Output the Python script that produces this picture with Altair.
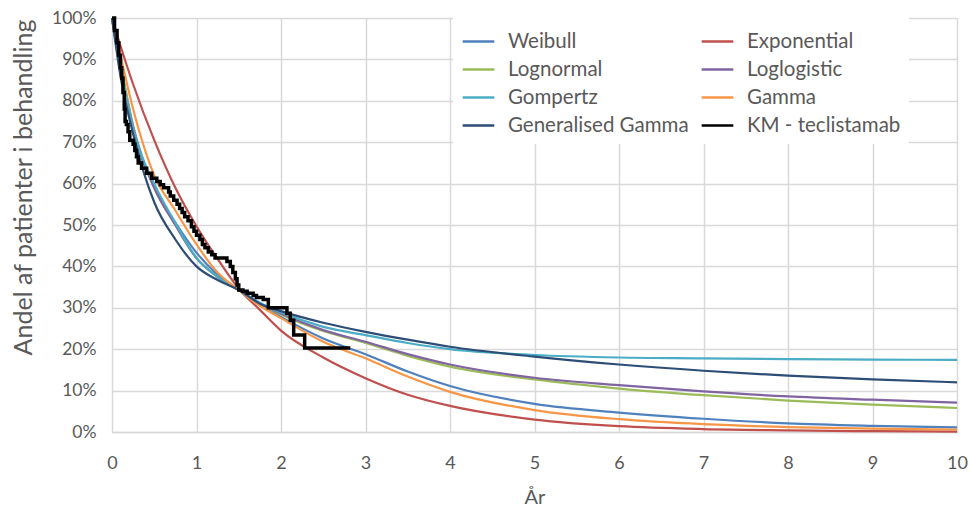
import altair as alt
import pandas as pd

# ---- data ----
models = ["Weibull", "Exponential", "Lognormal", "Loglogistic",
          "Gompertz", "Gamma", "Generalised Gamma", "KM - teclistamab"]
colors = ["#4F81BD", "#C0504D", "#9BBB59", "#8064A2",
          "#4BACC6", "#F79646", "#2C4D75", "#000000"]

years = [0, 0.1, 0.25, 0.5, 0.75, 1, 1.25, 1.5, 1.75, 2, 2.5, 3, 3.5, 4, 5, 6, 7, 8, 9, 10]
weibull = [100, 89, 74, 59, 50.6, 43.3, 38, 34.3, 30.8, 27.8, 22.6, 18.8, 14.6, 11.1, 6.8, 4.7, 3.2, 2.1, 1.5, 1.1]
exponential = [100, 93.3, 84, 70.5, 59, 49.7, 41.8, 34.6, 29.5, 24.5, 18, 13, 9, 6.3, 3, 1.4, 0.7, 0.4, 0.2, 0.1]
lognormal = [100, 89, 73.5, 59, 50, 42, 37.5, 34.3, 31, 28.4, 24.4, 21.5, 18.4, 15.8, 12.7, 10.5, 8.9, 7.6, 6.6, 5.8]
loglogistic = [100, 88, 73, 59, 50, 42, 37.5, 34.3, 31.1, 28.6, 24.6, 21.8, 18.8, 16.3, 13.1, 11.3, 9.8, 8.6, 7.8, 7.1]
gompertz = [100, 88, 73, 60, 50.5, 42, 37.5, 34.3, 31.2, 28.9, 25.4, 23.4, 21.5, 20.0, 18.6, 18.0, 17.8, 17.6, 17.5, 17.4]
gamma = [100, 91, 78, 62, 53.5, 45.3, 38.5, 34.3, 30.5, 27.5, 21.8, 17.8, 13.4, 9.7, 5.3, 3.1, 1.9, 1.2, 0.8, 0.6]
gen_gamma = [100, 86, 72, 55.5, 46.5, 40, 36.7, 34.3, 31, 29.2, 26.4, 24.2, 22.3, 20.6, 18.2, 16.3, 14.8, 13.6, 12.7, 12.0]

km_years = [0, 0.03, 0.06, 0.08, 0.1, 0.115, 0.13, 0.145, 0.155, 0.17, 0.19, 0.21, 0.25, 0.27,
            0.29, 0.31, 0.35, 0.41, 0.47, 0.53, 0.57, 0.61, 0.67, 0.69, 0.73, 0.77, 0.8, 0.83,
            0.86, 0.9, 0.94, 0.97, 1.0, 1.04, 1.07, 1.1, 1.14, 1.18, 1.22, 1.36, 1.4, 1.43,
            1.46, 1.48, 1.5, 1.55, 1.6, 1.67, 1.71, 1.79, 1.85, 2.07, 2.11, 2.15, 2.28, 2.82]
km_surv = [100, 97, 94, 91, 88, 85.5, 82, 78, 75, 74.3, 72.5, 70.5, 69.5, 68,
           66.5, 65, 63.7, 62.5, 61.3, 60.5, 59.7, 59, 58, 57, 56, 55, 54, 53,
           52, 51, 49.6, 48.5, 47.5, 46.5, 45.3, 44.5, 43.5, 42.8, 42, 41.2, 40, 38.5,
           37, 35.5, 34.3, 34, 33.5, 33, 32.5, 32, 30, 28.7, 27, 23.4, 20.3, 20.3]

x_ticks = list(range(0, 11))
y_ticks = list(range(0, 101, 10))

# legend fills column by column: order entries so rows read as in the reference
legend_order = [models[0], models[2], models[4], models[6],
                models[1], models[3], models[5], models[7]]
legend_colors = [colors[models.index(m)] for m in legend_order]

# ---- build tables ----
series = {"Weibull": weibull, "Exponential": exponential, "Lognormal": lognormal,
          "Loglogistic": loglogistic, "Gompertz": gompertz, "Gamma": gamma,
          "Generalised Gamma": gen_gamma}
rows = []
for i, (name, vals) in enumerate(series.items()):
    for t, v in zip(years, vals):
        rows.append({"model": name, "order": i, "t": t, "s": v})
curves = pd.DataFrame(rows)
km = pd.DataFrame({"model": models[-1], "t": km_years, "s": km_surv})

FONT = "Lato"
GREY = "#595959"

color = alt.Color(
    "model:N",
    scale=alt.Scale(domain=legend_order, range=legend_colors),
    legend=alt.Legend(
        title=None, orient="none", legendX=341, legendY=-2, columns=2,
        symbolType="stroke", symbolSize=1000, symbolStrokeWidth=2.5,
        labelFontSize=20.5, labelFont=FONT, labelColor=GREY, labelOffset=12,
        rowPadding=-2, columnPadding=7, padding=8, fillColor="white",
        labelLimit=400,
    ),
)

x = alt.X("t:Q", title="År",
          scale=alt.Scale(domain=[0, 10], nice=False),
          axis=alt.Axis(values=x_ticks, labelPadding=22, labelFlush=False,
                        labelFontSize=18, titleBaseline="alphabetic",
                        titleY=71, domainColor="#D9D9D9", domainWidth=1.5))
y = alt.Y("s:Q", title="Andel af patienter i behandling",
          scale=alt.Scale(domain=[0, 100], nice=False),
          axis=alt.Axis(values=y_ticks, labelExpr="datum.value + '%'", labelPadding=16,
                        labelFontSize=17.5, titleFontSize=25,
                        titleX=-76, titleY=169, domain=False))

lines = alt.Chart(curves).mark_line(interpolate="monotone", strokeWidth=2.2).encode(
    x=x, y=y, color=color, detail="model:N", order="order:Q"
)
km_line = alt.Chart(km).mark_line(interpolate="step-after", strokeWidth=3.5).encode(
    x=x, y=y, color=color
)

chart = alt.layer(lines, km_line).properties(
    width=845, height=414,
    autosize=alt.AutoSizeParams(type="none"),
    padding={"left": 112, "top": 18, "right": 14, "bottom": 75},
    background="white",
).configure_view(stroke=None).configure_axis(
    labelFont=FONT, titleFont=FONT, titleFontSize=20,
    labelColor=GREY, titleColor=GREY, titleFontWeight="normal",
    grid=True, gridColor="#D9D9D9", gridWidth=1.5, ticks=False,
)

chart.save("out.html", embed_options={"renderer": "svg", "actions": False})
